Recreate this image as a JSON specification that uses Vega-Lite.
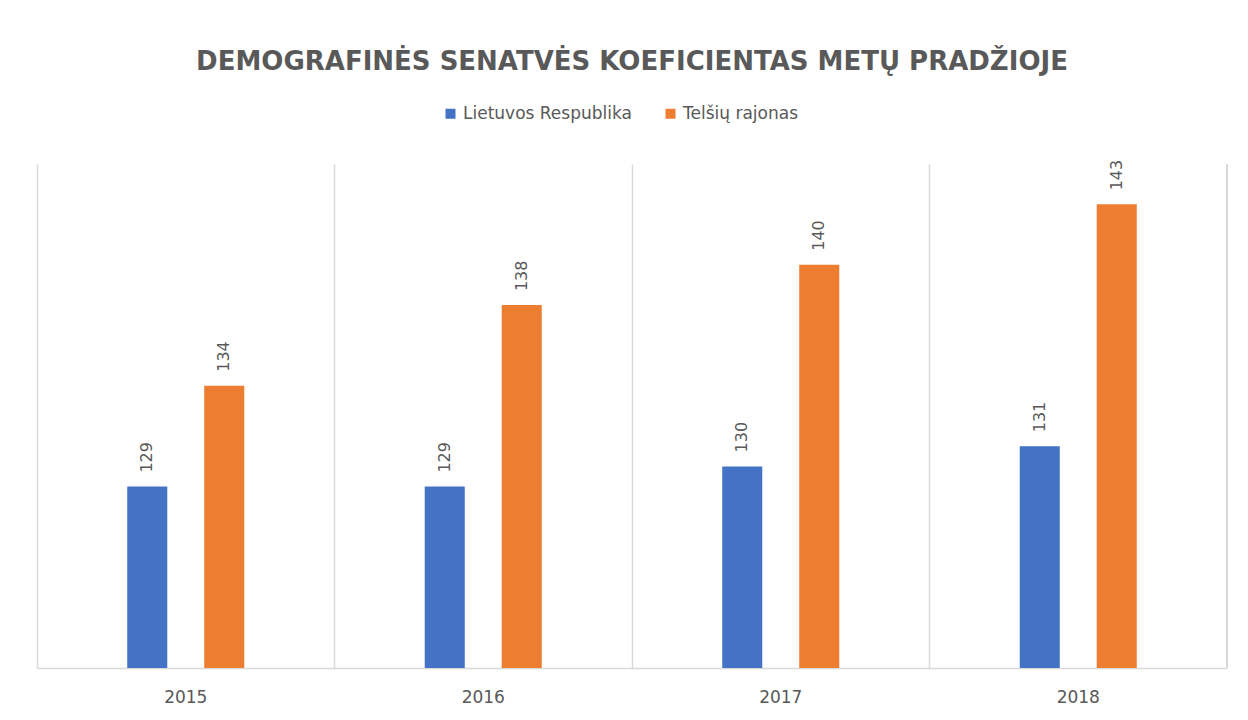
{
  "$schema": "https://vega.github.io/schema/vega-lite/v6.json",
  "width": 1190,
  "height": 504,
  "autosize": {"type": "none"},
  "padding": {"left": 37, "top": 164, "right": 21, "bottom": 52},
  "background": "white",
  "title": {
    "text": "DEMOGRAFINĖS SENATVĖS KOEFICIENTAS METŲ PRADŽIOJE",
    "font": "DejaVu Sans",
    "fontSize": 26,
    "fontWeight": "bold",
    "color": "#595959",
    "anchor": "middle",
    "offset": 30
  },
  "data": {
    "values": [
      {"year": "2015", "series": "Lietuvos Respublika", "value": 129},
      {"year": "2015", "series": "Telšių rajonas", "value": 134},
      {"year": "2016", "series": "Lietuvos Respublika", "value": 129},
      {"year": "2016", "series": "Telšių rajonas", "value": 138},
      {"year": "2017", "series": "Lietuvos Respublika", "value": 130},
      {"year": "2017", "series": "Telšių rajonas", "value": 140},
      {"year": "2018", "series": "Lietuvos Respublika", "value": 131},
      {"year": "2018", "series": "Telšių rajonas", "value": 143}
    ]
  },
  "encoding": {
    "x": {
      "field": "year",
      "type": "nominal",
      "scale": {"paddingInner": 0, "paddingOuter": 0},
      "axis": {
        "title": null,
        "labelAngle": 0,
        "labelFont": "DejaVu Sans",
        "labelFontSize": 17,
        "labelColor": "#595959",
        "labelPadding": 21,
        "ticks": false,
        "domainColor": "#d9d9d9",
        "domainWidth": 1.5,
        "grid": true,
        "gridColor": "#d9d9d9",
        "gridWidth": 1.5,
        "bandPosition": 0
      }
    },
    "xOffset": {
      "field": "series",
      "type": "nominal",
      "scale": {
        "domain": ["_a", "Lietuvos Respublika", "Telšių rajonas", "_b"],
        "paddingInner": 0.48,
        "paddingOuter": 0.172
      }
    },
    "y": {
      "field": "value",
      "type": "quantitative",
      "scale": {"domain": [120, 145], "nice": false, "zero": false},
      "axis": null
    }
  },
  "layer": [
    {
      "mark": {"type": "bar"},
      "encoding": {
        "y2": {"datum": 120},
        "color": {
          "field": "series",
          "type": "nominal",
          "scale": {
            "domain": ["Lietuvos Respublika", "Telšių rajonas"],
            "range": ["#4472C4", "#ED7D31"]
          },
          "legend": {
            "orient": "none",
            "direction": "horizontal",
            "legendX": 405,
            "legendY": -59,
            "title": null,
            "symbolType": "square",
            "symbolSize": 100,
            "symbolStrokeWidth": 0,
            "labelFont": "DejaVu Sans",
            "labelFontSize": 17,
            "labelColor": "#595959",
            "labelLimit": 400,
            "columnPadding": 30
          }
        }
      }
    },
    {
      "mark": {
        "type": "text",
        "angle": 270,
        "align": "left",
        "baseline": "middle",
        "dx": 14,
        "font": "DejaVu Sans",
        "fontSize": 16,
        "color": "#595959"
      },
      "encoding": {
        "text": {"field": "value", "type": "quantitative"}
      }
    },
    {
      "mark": {"type": "rule", "color": "#d9d9d9", "strokeWidth": 1.5},
      "encoding": {
        "x": {"value": "width"},
        "y": {"value": 0},
        "y2": {"value": "height"},
        "xOffset": null
      }
    }
  ],
  "config": {
    "view": {"stroke": null}
  }
}
